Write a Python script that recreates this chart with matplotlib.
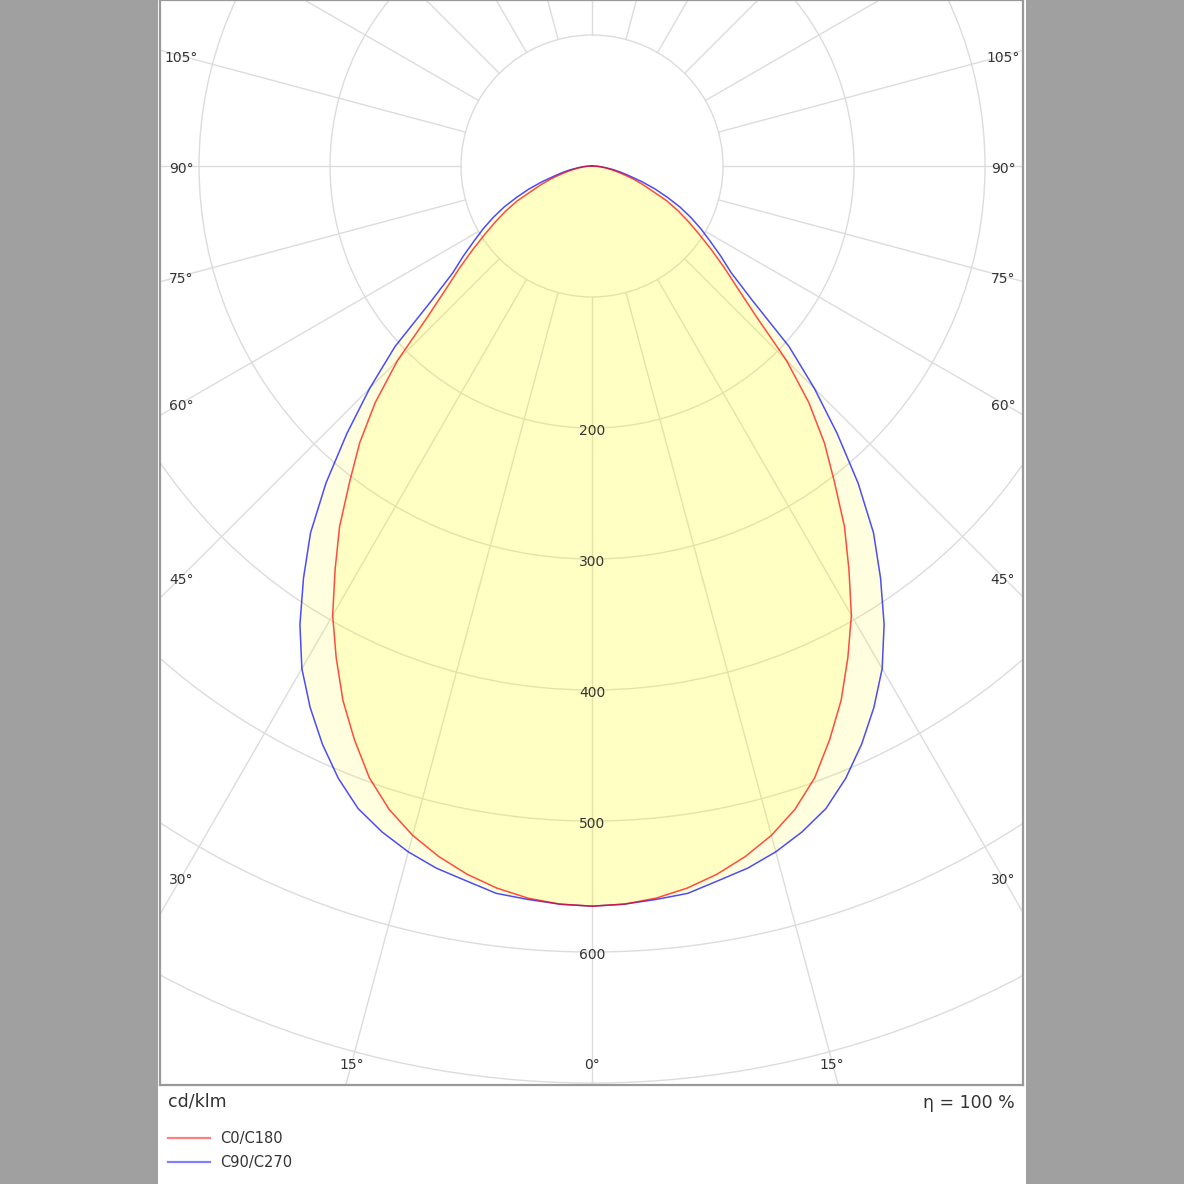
"""Polar light distribution curve (cd/klm) for a symmetric luminaire."""

import numpy as np
import matplotlib
matplotlib.use("Agg")
import matplotlib.pyplot as plt
from matplotlib.patches import Circle, Rectangle

# gamma angle from nadir (deg), luminous intensity in cd/klm
gamma = np.arange(0, 92.5, 2.5)
c0_c180 = [565, 564, 561, 556, 549, 540, 529, 515, 497, 474, 450, 423, 396,
           365, 336, 304, 276, 245, 210, 170, 145, 127, 111, 97, 85, 74, 63,
           50, 41, 33, 25, 19, 14, 10, 6, 3, 0]
c90_c270 = [565, 564, 562, 560, 554, 549, 542, 533, 522, 506, 487, 466, 443,
            415, 384, 353, 316, 277, 240, 204, 160, 134, 120, 107, 96, 85, 74,
            62, 51, 40, 30, 23, 17, 11, 7, 3, 0]

ring_values = [100, 200, 300, 400, 500, 600, 700]
ring_labels = [200, 300, 400, 500, 600]
spoke_angles = np.arange(0, 360, 15)
side_labels = [30, 45, 60, 75, 90, 105]
bottom_labels = [0, 15]

W = H = 1184
TXT = "#333333"
GRID = "#dcdcdc"

fig = plt.figure(figsize=(W / 100, H / 100), dpi=100)
fig.patch.set_facecolor("#a0a0a0")
fig.patches.append(Rectangle((158 / W, 0), 868 / W, 1, transform=fig.transFigure,
                             facecolor="white", edgecolor="none", zorder=-5))

ax = fig.add_axes([160 / W, 99 / H, 863 / W, 1085 / H])
ax.set_zorder(1)
ax.set_xlim(-329.8, 329.0)
ax.set_ylim(-701.5, 126.7)
ax.set_xticks([])
ax.set_yticks([])
for spine in ax.spines.values():
    spine.set_edgecolor("#999999")
    spine.set_linewidth(1.6)


def to_xy(theta_deg, r):
    t = np.radians(theta_deg)
    return np.asarray(r) * np.sin(t), -np.asarray(r) * np.cos(t)


# grid
for rv in ring_values:
    ax.add_patch(Circle((0, 0), rv, fill=False, edgecolor=GRID, lw=1.0, zorder=1))
for a in spoke_angles:
    x, y = to_xy(a, [100, 1200])
    ax.plot(x, y, color=GRID, lw=1.0, zorder=1)

# curves (mirrored for both half-planes)
series = [(c90_c270, "#0000ff"), (c0_c180, "#ff0000")]
for vals, col in series:
    vals = np.asarray(vals, dtype=float)
    theta = np.concatenate([-gamma[::-1], gamma[1:]])
    r = np.concatenate([vals[::-1], vals[1:]])
    x, y = to_xy(theta, r)
    ax.fill(x, y, color="#ffff00", alpha=0.125, lw=0, zorder=2)
    ax.plot(x, y, color=col, alpha=0.7, lw=1.1, zorder=3)

# ring labels
for rv in ring_labels:
    ax.text(0, -rv - 2, str(rv), ha="center", va="center", fontsize=10,
            color=TXT, zorder=4)

# angle labels
side_x = 313.7
for a in side_labels:
    t = np.radians(a)
    y = -side_x * np.cos(t) / np.sin(t)
    for sx in (-1, 1):
        ax.text(sx * side_x, y - 2, f"{a}°", ha="center", va="center",
                fontsize=10, color=TXT, zorder=4)
bottom_y = -684
for a in bottom_labels:
    x = -bottom_y * np.tan(np.radians(a))
    for sx in ((1,) if a == 0 else (-1, 1)):
        ax.text(sx * x, bottom_y - 2.3, f"{a}°", ha="center", va="center",
                fontsize=10, color=TXT, zorder=4)

# footer
fig.text(168 / W, 1 - 1102 / H, "cd/klm", ha="left", va="center",
         fontsize=12.5, color=TXT)
fig.text(1015 / W, 1 - 1103 / H, "η = 100 %", ha="right", va="center",
         fontsize=12.5, color=TXT)
legend = [("C0/C180", "#ff0000", 1138), ("C90/C270", "#0000ff", 1162)]
for name, col, ypx in legend:
    fig.add_artist(plt.Line2D([168 / W, 210 / W], [1 - ypx / H] * 2,
                              color=col, alpha=0.5, lw=1.6,
                              transform=fig.transFigure))
    fig.text(220 / W, 1 - ypx / H, name, ha="left", va="center",
             fontsize=10.5, color=TXT)

fig.savefig("out.png", dpi=100, facecolor=fig.get_facecolor())
plt.close(fig)
